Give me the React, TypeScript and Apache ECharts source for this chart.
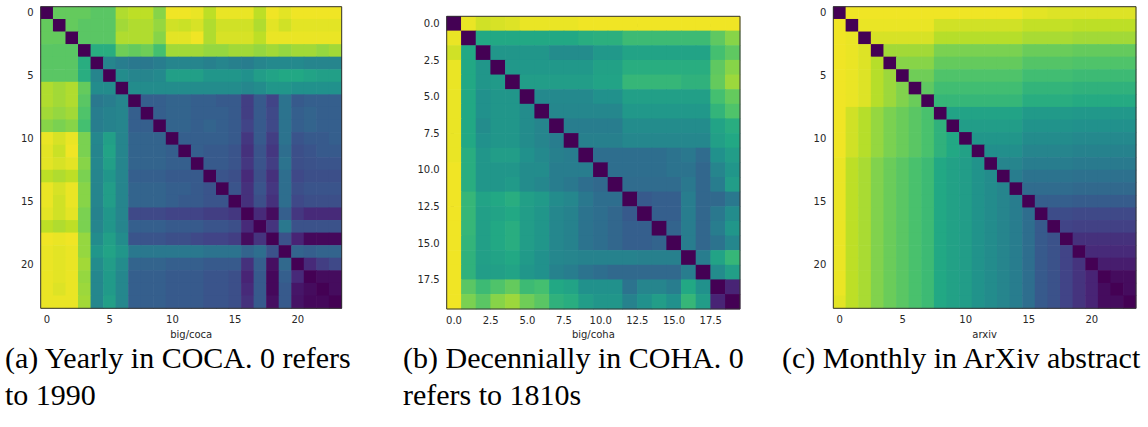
import React, { useEffect, useRef } from "react";
import * as echarts from "echarts";

// ---------- data ----------
const cocaTicks = [0, 5, 10, 15, 20];
const cohaTicks = [0, 2.5, 5, 7.5, 10, 12.5, 15, 17.5];
const arxivTicks = [0, 5, 10, 15, 20];
const axisNames = ["big/coca", "big/coha", "arxiv"];
const captionA = ["(a) Yearly in COCA. 0 refers", "to 1990"];
const captionB = ["(b) Decennially in COHA. 0", "refers to 1810s"];
const captionC = ["(c) Monthly in ArXiv abstract"];

const COCA: number[][] = [
  [0, 76, 76, 76, 74, 74, 88, 90, 90, 82, 98, 98, 97, 90, 97, 97, 97, 90, 98, 96, 98, 98, 98, 98],
  [76, 0, 76, 74, 74, 74, 86, 88, 88, 84, 93, 92, 94, 88, 93, 93, 93, 88, 96, 93, 96, 96, 96, 96],
  [76, 76, 0, 74, 74, 74, 88, 88, 88, 82, 96, 96, 98, 88, 94, 94, 94, 90, 97, 97, 97, 97, 97, 97],
  [74, 74, 74, 0, 62, 62, 78, 76, 78, 70, 86, 86, 86, 84, 84, 86, 86, 84, 86, 84, 86, 86, 84, 86],
  [74, 74, 74, 62, 0, 45, 42, 40, 40, 42, 45, 45, 45, 43, 45, 43, 42, 45, 47, 47, 47, 45, 45, 45],
  [74, 74, 74, 62, 45, 0, 48, 45, 45, 47, 56, 56, 56, 52, 52, 52, 50, 55, 58, 60, 60, 58, 56, 56],
  [88, 86, 88, 76, 48, 48, 0, 48, 48, 48, 48, 48, 48, 48, 48, 48, 46, 48, 52, 52, 50, 50, 50, 50],
  [88, 86, 88, 74, 40, 42, 45, 0, 30, 30, 32, 32, 30, 30, 28, 28, 18, 28, 20, 38, 28, 30, 30, 30],
  [86, 84, 86, 72, 42, 44, 45, 30, 0, 30, 32, 32, 30, 30, 30, 28, 18, 28, 22, 38, 30, 32, 30, 30],
  [82, 80, 82, 70, 42, 44, 45, 30, 30, 0, 32, 32, 30, 32, 30, 28, 20, 28, 22, 38, 30, 32, 30, 30],
  [97, 94, 97, 80, 46, 56, 45, 32, 32, 32, 0, 30, 30, 30, 30, 28, 16, 28, 18, 38, 26, 28, 28, 30],
  [96, 92, 98, 80, 45, 58, 45, 32, 32, 32, 30, 0, 30, 28, 28, 26, 14, 26, 16, 36, 24, 26, 28, 28],
  [96, 94, 96, 82, 46, 56, 45, 32, 32, 32, 30, 30, 0, 28, 28, 26, 16, 26, 18, 38, 24, 25, 26, 26],
  [90, 88, 90, 80, 45, 52, 45, 30, 30, 30, 28, 28, 28, 0, 26, 24, 12, 24, 14, 36, 22, 24, 24, 24],
  [97, 94, 97, 82, 45, 55, 45, 32, 32, 32, 30, 30, 28, 26, 0, 26, 14, 26, 16, 36, 24, 26, 26, 26],
  [97, 93, 97, 82, 45, 55, 45, 32, 32, 32, 30, 28, 28, 26, 26, 0, 14, 24, 14, 36, 22, 24, 24, 24],
  [96, 93, 96, 80, 44, 52, 45, 22, 22, 22, 20, 20, 20, 18, 18, 16, 0, 12, 3, 30, 16, 12, 12, 12],
  [90, 88, 90, 80, 45, 52, 45, 30, 30, 30, 28, 28, 28, 26, 26, 24, 12, 0, 15, 40, 25, 25, 25, 25],
  [98, 97, 98, 84, 48, 56, 48, 26, 26, 26, 24, 24, 22, 20, 20, 18, 3, 15, 0, 25, 10, 2, 2, 2],
  [97, 96, 97, 84, 52, 58, 52, 40, 40, 40, 40, 40, 40, 38, 38, 38, 32, 36, 25, 0, 32, 30, 32, 32],
  [97, 96, 97, 86, 48, 55, 48, 32, 32, 32, 30, 30, 30, 28, 28, 28, 14, 30, 4, 34, 0, 12, 18, 22],
  [97, 96, 97, 84, 46, 54, 46, 30, 30, 30, 28, 28, 28, 26, 26, 24, 10, 28, 2, 30, 12, 0, 3, 3],
  [97, 95, 97, 85, 46, 54, 46, 30, 30, 30, 28, 28, 28, 26, 26, 24, 12, 28, 2, 28, 6, 3, 0, 3],
  [97, 97, 97, 86, 46, 56, 46, 30, 30, 30, 28, 28, 28, 26, 26, 24, 14, 28, 4, 28, 5, 2, 2, 0],
];

const COHA: number[][] = [
  [0, 97, 93, 94, 95, 97, 97, 97, 97, 98, 98, 98, 98, 98, 98, 98, 98, 98, 98, 98],
  [97, 0, 60, 60, 60, 60, 60, 60, 60, 62, 63, 63, 68, 68, 68, 68, 68, 68, 75, 82],
  [93, 60, 0, 52, 52, 52, 52, 48, 48, 48, 53, 53, 58, 58, 58, 58, 58, 58, 70, 75],
  [97, 60, 52, 0, 53, 53, 53, 53, 53, 53, 57, 57, 62, 62, 62, 62, 62, 62, 75, 82],
  [97, 60, 52, 54, 0, 55, 55, 55, 55, 55, 58, 58, 66, 66, 66, 66, 64, 64, 76, 85],
  [97, 60, 50, 52, 52, 0, 47, 47, 47, 47, 50, 50, 56, 56, 56, 56, 56, 56, 70, 76],
  [97, 60, 50, 52, 52, 48, 0, 46, 46, 46, 46, 46, 53, 53, 53, 53, 53, 53, 65, 72],
  [97, 60, 48, 52, 52, 48, 45, 0, 42, 42, 42, 42, 48, 48, 48, 48, 48, 48, 58, 62],
  [97, 60, 50, 52, 52, 48, 45, 42, 0, 43, 43, 43, 46, 46, 46, 46, 46, 46, 56, 60],
  [97, 62, 52, 55, 55, 50, 47, 43, 42, 0, 36, 36, 36, 36, 36, 38, 40, 35, 50, 55],
  [98, 62, 52, 52, 52, 48, 48, 42, 42, 42, 0, 36, 36, 36, 36, 38, 38, 33, 45, 52],
  [98, 62, 52, 52, 54, 48, 46, 42, 40, 36, 34, 0, 35, 35, 35, 35, 40, 33, 42, 55],
  [98, 66, 58, 60, 62, 56, 54, 48, 46, 40, 36, 36, 0, 28, 30, 30, 42, 33, 34, 40],
  [98, 66, 56, 58, 60, 55, 52, 46, 44, 38, 36, 33, 28, 0, 30, 30, 42, 33, 40, 48],
  [98, 66, 56, 60, 62, 55, 52, 46, 44, 38, 36, 33, 30, 30, 0, 32, 42, 33, 42, 52],
  [98, 65, 56, 60, 62, 55, 52, 46, 44, 38, 36, 33, 30, 30, 32, 0, 42, 33, 38, 46],
  [98, 64, 56, 58, 60, 54, 50, 46, 45, 44, 44, 44, 44, 43, 43, 43, 0, 42, 58, 66],
  [98, 64, 55, 56, 58, 52, 50, 44, 42, 38, 36, 34, 34, 34, 34, 34, 42, 0, 48, 56],
  [98, 74, 68, 72, 76, 68, 70, 60, 58, 50, 50, 50, 38, 45, 45, 42, 60, 50, 0, 10],
  [98, 80, 74, 82, 85, 78, 74, 64, 62, 55, 52, 52, 44, 50, 55, 50, 66, 55, 10, 0],
];

const ARXIV: number[][] = [
  [0, 98, 98, 98, 98, 98, 98, 98, 98, 98, 98, 98, 98, 98, 98, 96, 96, 95, 95, 95, 95, 95, 95, 95],
  [98, 0, 97, 97, 97, 97, 97, 97, 93, 93, 93, 93, 93, 93, 93, 91, 91, 91, 91, 90, 90, 90, 90, 90],
  [98, 97, 0, 94, 94, 94, 94, 94, 89, 89, 89, 89, 89, 89, 89, 87, 87, 87, 87, 86, 86, 86, 86, 86],
  [98, 97, 95, 0, 86, 86, 86, 86, 80, 80, 80, 80, 80, 80, 80, 77, 77, 77, 77, 76, 76, 76, 76, 76],
  [98, 97, 95, 89, 0, 82, 82, 82, 76, 76, 76, 76, 76, 76, 76, 73, 73, 73, 73, 72, 72, 72, 72, 72],
  [98, 97, 95, 89, 85, 0, 78, 78, 72, 72, 72, 72, 72, 72, 72, 69, 69, 69, 69, 68, 68, 68, 68, 68],
  [98, 97, 95, 89, 85, 81, 0, 75, 69, 69, 69, 69, 69, 69, 69, 65, 65, 65, 65, 64, 64, 64, 64, 64],
  [98, 97, 95, 89, 85, 81, 77, 0, 66, 66, 66, 66, 66, 66, 66, 62, 62, 62, 62, 61, 61, 61, 61, 61],
  [98, 93, 89, 84, 80, 77, 74, 71, 0, 58, 58, 58, 58, 58, 58, 54, 54, 54, 54, 53, 53, 53, 53, 53],
  [98, 93, 89, 84, 80, 77, 74, 71, 64, 0, 55, 55, 55, 55, 55, 51, 51, 51, 51, 50, 50, 50, 50, 50],
  [98, 93, 89, 84, 80, 77, 74, 71, 64, 60, 0, 52, 52, 52, 52, 48, 48, 48, 48, 47, 47, 47, 47, 47],
  [98, 93, 89, 84, 80, 77, 74, 71, 64, 60, 57, 0, 49, 49, 49, 45, 45, 45, 45, 44, 44, 44, 44, 44],
  [97, 90, 87, 81, 77, 74, 71, 68, 60, 57, 55, 51, 0, 45, 45, 42, 42, 42, 42, 41, 41, 41, 41, 41],
  [97, 90, 87, 81, 77, 74, 71, 68, 60, 57, 55, 51, 48, 0, 42, 38, 38, 38, 38, 37, 37, 37, 37, 37],
  [97, 90, 87, 81, 77, 74, 71, 68, 60, 57, 55, 51, 48, 45, 0, 35, 35, 35, 35, 34, 34, 34, 34, 34],
  [97, 90, 87, 81, 77, 74, 71, 68, 60, 57, 55, 51, 48, 45, 42, 0, 30, 30, 30, 29, 29, 29, 29, 29],
  [97, 90, 87, 81, 77, 74, 71, 68, 60, 57, 55, 51, 48, 45, 42, 36, 0, 23, 23, 22, 22, 22, 22, 22],
  [97, 90, 87, 81, 77, 74, 71, 68, 60, 57, 55, 51, 48, 45, 42, 36, 28, 0, 20, 19, 19, 19, 19, 19],
  [97, 90, 87, 81, 77, 74, 71, 68, 60, 57, 55, 51, 48, 45, 42, 36, 28, 25, 0, 14, 14, 14, 14, 14],
  [97, 90, 87, 81, 77, 74, 71, 68, 60, 57, 55, 51, 48, 45, 42, 36, 28, 25, 20, 0, 12, 12, 12, 12],
  [97, 90, 87, 81, 77, 74, 71, 68, 60, 57, 55, 51, 48, 45, 42, 36, 28, 25, 20, 15, 0, 8, 8, 8],
  [97, 90, 87, 81, 77, 74, 71, 68, 60, 57, 55, 51, 48, 45, 42, 36, 28, 25, 20, 15, 10, 0, 3, 3],
  [97, 90, 87, 81, 77, 74, 71, 68, 60, 57, 55, 51, 48, 45, 42, 36, 28, 25, 20, 15, 10, 3, 0, 3],
  [96, 90, 87, 81, 77, 74, 71, 68, 60, 57, 55, 51, 48, 45, 42, 36, 28, 25, 20, 15, 10, 3, 3, 0],
];

const VIRIDIS = [
  "#440154", "#482475", "#414487", "#355f8d", "#2a788e", "#21918c",
  "#22a884", "#44bf70", "#7ad151", "#bddf26", "#fde725",
];

function toTriples(m: number[][]) {
  const out: number[][] = [];
  m.forEach((row, r) => row.forEach((v, c) => out.push([c, r, v])));
  return out;
}

const GRIDS = [
  { left: 40.7, top: 6.7, width: 301, height: 301.6 },
  { left: 446.7, top: 16.3, width: 293.3, height: 292.7 },
  { left: 833.3, top: 6.7, width: 302.7, height: 301.6 },
];

const TEXT = "#262626";
const SANS = "DejaVu Sans";

export default function App() {
  const ref = useRef<HTMLDivElement>(null);
  useEffect(() => {
    document.body.style.margin = "0";
    if (!ref.current) return;
    const chart = echarts.init(ref.current, null, { renderer: "svg" });
    const mats = [COCA, COHA, ARXIV];
    const ticks = [cocaTicks, cohaTicks, arxivTicks];
    const fmt = [
      (v: number) => String(v),
      (v: number) => v.toFixed(1),
      (v: number) => String(v),
    ];
    const xAxis = mats.map((m, i) => ({
      gridIndex: i,
      type: "value",
      min: -0.5,
      max: m[0].length - 0.5,
      axisLine: { show: false },
      splitLine: { show: false },
      axisTick: { show: true, customValues: ticks[i], length: 3.5, lineStyle: { color: "#000", width: 0.8 } },
      axisLabel: { customValues: ticks[i], formatter: fmt[i], color: TEXT, fontFamily: SANS, fontSize: 10, margin: 6 },
      name: axisNames[i],
      nameLocation: "middle",
      nameGap: 17,
      nameTextStyle: { color: TEXT, fontFamily: SANS, fontSize: 10, verticalAlign: "top" },
    }));
    const yAxis = mats.map((m, i) => ({
      gridIndex: i,
      type: "value",
      inverse: true,
      min: -0.5,
      max: m.length - 0.5,
      axisLine: { show: false },
      splitLine: { show: false },
      axisTick: { show: true, customValues: ticks[i], length: 3.5, lineStyle: { color: "#000", width: 0.8 } },
      axisLabel: { customValues: ticks[i], formatter: fmt[i], color: TEXT, fontFamily: SANS, fontSize: 10, margin: 7 },
    }));
    const series = mats.map((m, i) => ({
      type: "custom",
      xAxisIndex: i,
      yAxisIndex: i,
      data: toTriples(m),
      encode: { x: 0, y: 1 },
      silent: true,
      renderItem: (params: any, api: any) => {
        const c = api.value(0);
        const r = api.value(1);
        const a = api.coord([c - 0.5, r - 0.5]);
        const b = api.coord([c + 0.5, r + 0.5]);
        const x = Math.min(a[0], b[0]);
        const y = Math.min(a[1], b[1]);
        return {
          type: "rect",
          shape: { x: x - 0.3, y: y - 0.3, width: Math.abs(b[0] - a[0]) + 0.6, height: Math.abs(b[1] - a[1]) + 0.6 },
          style: { fill: api.visual("color") },
        };
      },
    }));
    const capFont = '30px "Liberation Serif"';
    const capText = (text: string, x: number, y: number) => ({
      type: "text",
      x,
      y,
      style: { text, font: capFont, fill: "#000", verticalAlign: "middle", align: "left" },
    });
    chart.setOption({
      animation: false,
      backgroundColor: "#fff",
      grid: GRIDS.map((g) => ({ ...g, show: true, borderColor: "#333", borderWidth: 1, backgroundColor: "transparent", z: 10 })),
      xAxis,
      yAxis,
      visualMap: {
        type: "continuous",
        show: false,
        min: 0,
        max: 100,
        dimension: 2,
        seriesIndex: [0, 1, 2],
        inRange: { color: VIRIDIS },
      },
      series,
      graphic: [
        capText(captionA[0], 5, 357),
        capText(captionA[1], 5, 394),
        capText(captionB[0], 403, 357),
        capText(captionB[1], 403, 394),
        capText(captionC[0], 782, 357),
      ],
    });
    return () => chart.dispose();
  }, []);
  return <div ref={ref} style={{ width: 1148, height: 427 }} />;
}
